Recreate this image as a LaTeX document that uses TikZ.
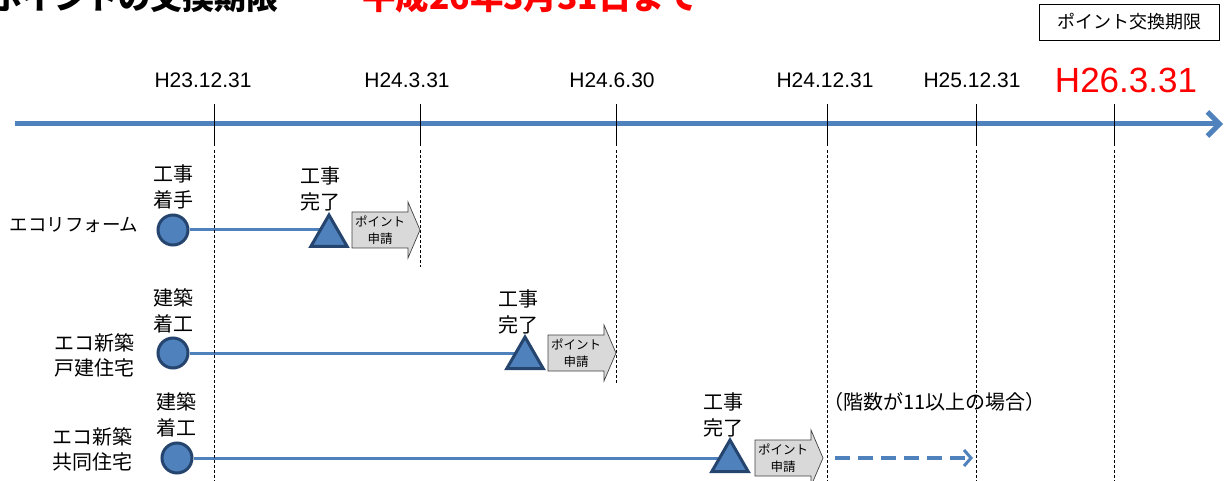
\documentclass[tikz,border=0pt]{standalone}
\usepackage{fontspec}
\setmainfont{Liberation Sans}
\newfontfamily\jp{Noto Sans CJK JP}
\usetikzlibrary{arrows.meta,shapes.geometric,backgrounds}
\definecolor{tlblue}{HTML}{4F81BD}
\definecolor{dkblue}{HTML}{25446E}
\definecolor{ptgray}{HTML}{D9D9D9}
\definecolor{titlered}{HTML}{FF0000}
\tikzset{
  timeline/.style={tlblue, line width=5pt, -{Straight Barb[length=12pt,width=24pt]}},
  tickln/.style={black, line width=0.9pt},
  vdash/.style={black, line width=0.6pt, dash pattern=on 3pt off 2pt},
  datelbl/.style={anchor=base, inner sep=0pt, font=\fontsize{21}{21}\selectfont},
  mile/.style={circle, draw=dkblue, fill=tlblue, line width=3pt, minimum size=30pt, inner sep=0pt},
  tri/.style={regular polygon, regular polygon sides=3, draw=dkblue, fill=tlblue, line width=3pt, minimum size=42pt, inner sep=0pt},
  conn/.style={tlblue, line width=3pt},
  dasharrow/.style={tlblue, line width=3.5pt, dash pattern=on 15pt off 8pt, -{Straight Barb[length=7pt,width=16pt,line width=3pt]}},
  evlbl/.style={font=\jp\fontsize{20}{26}\selectfont, align=center, inner sep=0pt},
  rowlbl/.style={font=\jp\fontsize{20}{25}\selectfont, align=left, inner sep=0pt},
  ptshape/.style={draw=black!75, fill=ptgray, line width=0.7pt},
  pttext/.style={font=\jp\fontsize{12.5}{17}\selectfont, align=center, inner sep=0pt},
  titlelbl/.style={anchor=base west, inner sep=0pt, font=\jp\bfseries\fontsize{32}{32}\selectfont},
}
\newcommand\ptarrow[3]{%
  \draw[ptshape,shift={(#2,#3)}] (-28,-18) -- (28,-18) -- (28,-28) -- (40,0) -- (28,28) -- (28,18) -- (-28,18) -- cycle;
  \node[pttext] (#1) at (#2,#3) {ポイント\\申請};
}
\begin{document}
\begin{tikzpicture}[x=1pt,y=-1pt]
\useasboundingbox (0,0) rectangle (1224,481);
% title (cut off at top, as in the reference)
\node[titlelbl] (title) at (-10,10) {ポイントの交換期限};
\node[titlelbl, text=titlered, font=\jp\bfseries\fontsize{33.5}{33.5}\selectfont] (deadline) at (362,10) {平成26年3月31日まで};
\node[draw, line width=0.8pt, minimum width=180pt, minimum height=36pt, inner sep=0pt, font=\jp\fontsize{18}{18}\selectfont] (legend) at (1129,22) {ポイント交換期限};
% date labels
\node[datelbl] (d1) at (203,88) {H23.12.31};
\node[datelbl] (d2) at (407,88) {H24.3.31};
\node[datelbl] (d3) at (612,88) {H24.6.30};
\node[datelbl] (d4) at (825,88) {H24.12.31};
\node[datelbl] (d5) at (972,88) {H25.12.31};
\node[datelbl, text=titlered, font=\fontsize{35}{35}\selectfont] (d6) at (1126,93) {H26.3.31};
% dashed verticals
\draw[vdash] (214,150) -- (214,481);
\draw[vdash] (420,150) -- (420,267);
\draw[vdash] (616,150) -- (616,383);
\draw[vdash] (827,150) -- (827,481);
\draw[vdash] (976,150) -- (976,481);
\draw[vdash] (1114,150) -- (1114,481);
% timeline
\coordinate (tl0) at (15,124);
\coordinate (tl1) at (1223,124);
\draw[timeline] (tl0) -- (tl1);
\foreach \x in {214,420,616,827,976,1114} \draw[tickln] (\x,104) -- (\x,146);
% row labels
\node[rowlbl, font=\jp\fontsize{18.5}{22}\selectfont] (r1) at (74,225) {エコリフォーム};
\node[rowlbl] (r2) at (94,355) {エコ新築\\戸建住宅};
\node[rowlbl] (r3) at (92,449) {エコ新築\\共同住宅};
% event labels
\node[evlbl] (e1a) at (173,187) {工事\\着手};
\node[evlbl] (e1b) at (320,189) {工事\\完了};
\node[evlbl] (e2a) at (173,311) {建築\\着工};
\node[evlbl] (e2b) at (518,312) {工事\\完了};
\node[evlbl] (e3a) at (176,415) {建築\\着工};
\node[evlbl] (e3b) at (723,415) {工事\\完了};
% milestones
\node[mile] (c1) at (173,230) {};
\node[tri] (t1) at (329,236) {};
\node[mile] (c2) at (173,353) {};
\node[tri] (t2) at (525,358) {};
\node[mile] (c3) at (177,458) {};
\node[tri] (t3) at (730,461) {};
\begin{scope}[on background layer]
\draw[conn] (c1) -- (c1 -| t1);
\draw[conn] (c2) -- (c2 -| t2);
\draw[conn] (c3) -- (c3 -| t3);
\end{scope}
% point application arrows
\ptarrow{p1}{380}{230}
\ptarrow{p2}{576}{353}
\ptarrow{p3}{783}{458}
% dashed extension
\coordinate (x0) at (835,458);
\coordinate (x1) at (973,458);
\draw[dasharrow] (x0) -- (x1);
\node[anchor=base west, inner sep=0pt, font=\jp\fontsize{20}{20}\selectfont] (note) at (823,409) {（階数が11以上の場合）};
\end{tikzpicture}
\end{document}
